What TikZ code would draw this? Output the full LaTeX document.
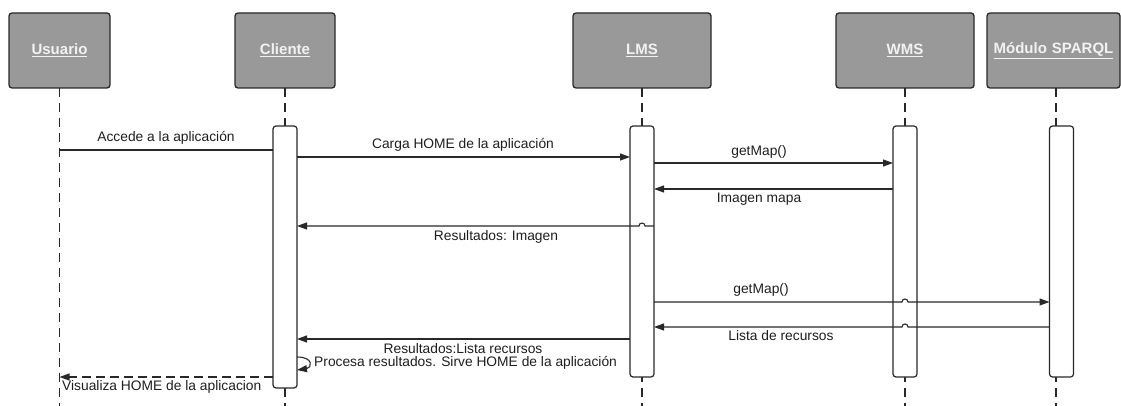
\documentclass[tikz,border=0pt]{standalone}
\usepackage{fontspec}
\setmainfont{Liberation Sans}
\usetikzlibrary{arrows.meta,calc}
\definecolor{hdrfill}{HTML}{999999}
\definecolor{ink}{HTML}{282828}
\definecolor{txt}{HTML}{1E1E1E}
\definecolor{hdrtxt}{HTML}{F2F2F2}
\tikzset{
  hdr/.style={draw=ink, line width=1.3pt, fill=hdrfill, rounded corners=3pt,
    minimum height=75pt, outer sep=0pt, inner sep=0pt,
    font=\fontsize{15}{18}\selectfont\bfseries, text=hdrtxt},
  life/.style={draw=ink, line width=1.1pt, dash pattern=on 9pt off 6pt},
  act/.style={draw=ink, line width=1.2pt, fill=white, rounded corners=3pt,
    minimum width=24pt, outer sep=0pt, inner sep=0pt},
  msg/.style={draw=ink, line width=1.1pt},
  arr/.style={msg, -{Triangle[length=10pt,width=7pt]}},
  ret/.style={msg, dash pattern=on 9pt off 5pt, -{Triangle[length=10pt,width=7pt]}},
  lbl/.style={font=\fontsize{13.8}{16}\selectfont, text=txt, inner sep=0pt}
}
\begin{document}
\begin{tikzpicture}[x=1pt,y=1pt]
\useasboundingbox (0,0) rectangle (1121,-406);
% headers
\node[hdr, minimum width=101pt] (usr) at (59.5,-50.5) {\underline{Usuario}};
\node[hdr, minimum width=100pt] (cli) at (285,-50.5) {\underline{Cliente}};
\node[hdr, minimum width=138pt] (lms) at (642,-50.5) {\underline{LMS}};
\node[hdr, minimum width=138pt] (wms) at (905,-50.5) {\underline{WMS}};
\node[hdr, minimum width=133pt, text width=133pt, align=center] (spq) at (1053.5,-50.5) {\underline{Módulo SPARQL}};
% lifelines
\draw[life] (usr.south) -- (usr.south |- 0,-406);
\draw[life] (cli.south) -- (cli.south |- 0,-406);
\draw[life] (lms.south) -- (lms.south |- 0,-406);
\draw[life] (wms.south) -- (wms.south |- 0,-406);
\draw[life] (spq.south -| 1056,0) -- (1056,-406);
% activations
\node[act, minimum height=262pt] (cact) at (285,-257) {};
\node[act, minimum height=251pt] (lact) at (642,-251.5) {};
\node[act, minimum height=251pt] (wact) at (905,-251.5) {};
\node[act, minimum height=251pt] (sact) at (1061.5,-251.5) {};
% messages
\draw[msg] (usr.south |- 0,-150) -- (cact.west |- 0,-150);
\node[lbl] (l1) at (166,-138) {Accede a la aplicación};
\draw[arr] (cact.east |- 0,-157) -- (lact.west |- 0,-157);
\node[lbl] (l2) at (463,-145) {Carga HOME de la aplicación};
\draw[arr] (lact.east |- 0,-163) -- (wact.west |- 0,-163);
\node[lbl] (l3) at (759,-152) {getMap()};
\draw[arr] (wact.west |- 0,-189) -- (lact.east |- 0,-189);
\node[lbl] (l4) at (759,-199) {Imagen mapa};
\draw[arr] (lact.east |- 0,-226) -- ($(lact.center |- 0,-226)+(3,0)$)
   arc[start angle=0, end angle=180, radius=3pt] -- (cact.east |- 0,-226);
\node[lbl] (l5) at (496,-237) {Resultados: Imagen};
\draw[arr] (lact.east |- 0,-302) -- ($(wms.south |- 0,-302)+(-3,0)$)
   arc[start angle=180, end angle=0, radius=3pt] -- (sact.west |- 0,-302);
\node[lbl] (l6) at (761,-290) {getMap()};
\draw[arr] (sact.west |- 0,-327) -- ($(wms.south |- 0,-327)+(3,0)$)
   arc[start angle=0, end angle=180, radius=3pt] -- (lact.east |- 0,-327);
\node[lbl] (l7) at (781,-336) {Lista de recursos};
\draw[arr] (lact.west |- 0,-339) -- (cact.east |- 0,-339);
\node[lbl] (l8) at (463,-349) {Resultados:Lista recursos};
\coordinate (ls) at (cact.east |- 0,-357);
\coordinate (le) at (cact.east |- 0,-370);
\draw[arr] (ls) .. controls +(17,0) and +(15,2) .. (le);
\node[lbl, anchor=west] (l9) at (314,-363) {Procesa resultados. Sirve HOME de la aplicación};
\draw[ret] (cact.west |- 0,-377) -- (usr.south |- 0,-377);
\node[lbl, anchor=west] (l10) at (62,-387) {Visualiza HOME de la aplicacion};
\end{tikzpicture}
\end{document}
